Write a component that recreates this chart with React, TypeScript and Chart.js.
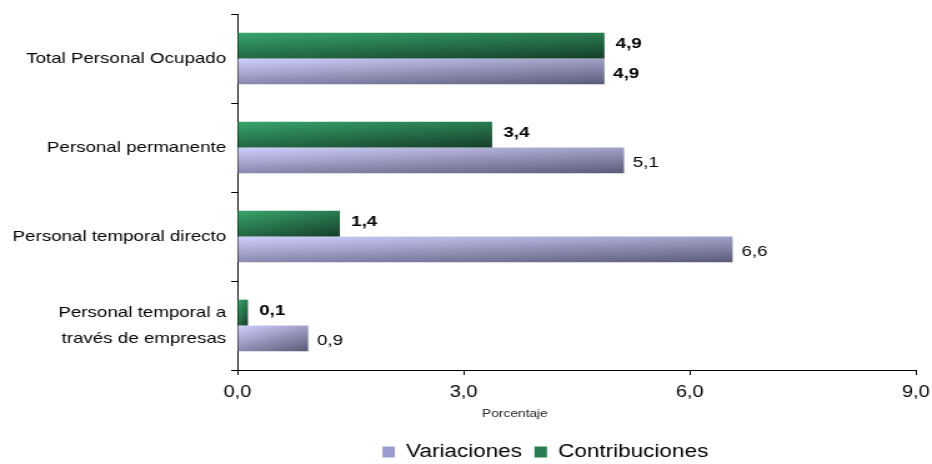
import React, { useEffect, useRef } from 'react';
import { Chart, registerables } from 'chart.js';

Chart.register(...registerables);

// ---- data ----
const categories: (string | string[])[] = [
  'Total Personal Ocupado',
  'Personal permanente',
  'Personal temporal directo',
  ['Personal temporal a', 'través de empresas'],
];
const variaciones = [4.87, 5.13, 6.57, 0.94];
const contribuciones = [4.87, 3.38, 1.36, 0.14];
const xMin = 0;
const xMax = 9;
const xStep = 3;
const axisTitle = 'Porcentaje';
const variacionesBold = [true, false, false, false];
const contribucionesBold = [true, true, true, true];

const FONT = "'Liberation Sans', Arial, Helvetica, sans-serif";
const fmt = (v: number) => v.toFixed(1).replace('.', ',');

// internal drawing width (canvas is stretched horizontally like the reference image)
const OUT_W = 932;
const OUT_H = 464;
const IN_W = 746;

const gradientPlugin = {
  id: 'barGradients',
  beforeDatasetsDraw(chart: any) {
    const ctx = chart.ctx;
    chart.data.datasets.forEach((ds: any, di: number) => {
      const meta = chart.getDatasetMeta(di);
      meta.data.forEach((el: any) => {
        const { x, y, base, height } = el.getProps(['x', 'y', 'base', 'height'], true);
        const left = Math.min(x, base);
        const right = Math.max(x, base);
        const w = Math.max(right - left, 1);
        const h = Math.max(height, 1);
        const L = 1 / (0.16 / (w * w) + 0.36 / (h * h));
        const a = (0.4 * L) / w;
        const b = (0.6 * L) / h;
        const top = y - h / 2;
        const g = ctx.createLinearGradient(left, top, left + a, top + b);
        g.addColorStop(0, ds.gradFrom);
        g.addColorStop(1, ds.gradTo);
        el.options = { ...el.options, backgroundColor: g };
      });
    });
  },
};

const labelPlugin = {
  id: 'valueLabels',
  afterDatasetsDraw(chart: any) {
    const ctx = chart.ctx;
    chart.data.datasets.forEach((ds: any, di: number) => {
      const meta = chart.getDatasetMeta(di);
      meta.data.forEach((el: any, i: number) => {
        const v = ds.data[i];
        ctx.save();
        ctx.font = `${ds.labelBold[i] ? 'bold ' : ''}15px ${FONT}`;
        ctx.fillStyle = '#000';
        ctx.textAlign = 'left';
        ctx.textBaseline = 'middle';
        ctx.fillText(fmt(v), el.x + ds.labelGap, el.y + ds.labelDy);
        ctx.restore();
      });
    });
  },
};

// x-axis title, drawn a little left of the plot centre as in the reference
const axisTitlePlugin = {
  id: 'axisTitle',
  afterDraw(chart: any) {
    const { ctx, chartArea } = chart;
    ctx.save();
    ctx.font = `11px ${FONT}`;
    ctx.fillStyle = '#222';
    ctx.textAlign = 'center';
    ctx.textBaseline = 'middle';
    const x = chartArea.left + (chartArea.right - chartArea.left) * 0.409;
    ctx.fillText(axisTitle, x, chartArea.bottom + 44);
    ctx.restore();
  },
};

const legendShift = {
  id: 'legendShift',
  afterLayout(chart: any) {
    const lg = chart.legend;
    if (!lg) return;
    const dx = 70;
    const dy = 7;
    lg.left += dx;
    lg.right += dx;
    lg.top += dy;
    lg.bottom += dy;
  },
};

export default function App() {
  const ref = useRef<HTMLCanvasElement | null>(null);

  useEffect(() => {
    if (!ref.current) return;
    const chart = new Chart(ref.current, {
      type: 'bar',
      data: {
        labels: categories as any,
        datasets: [
          {
            label: 'Contribuciones',
            data: contribuciones,
            backgroundColor: '#2a7d52',
            borderWidth: 0,
            categoryPercentage: 0.58,
            barPercentage: 1,
            gradFrom: '#38a56c',
            gradTo: '#153f29',
            labelBold: contribucionesBold,
            labelGap: 9,
            labelDy: -2,
          } as any,
          {
            label: 'Variaciones',
            data: variaciones,
            backgroundColor: '#9c9cd0',
            borderWidth: 0,
            categoryPercentage: 0.58,
            barPercentage: 1,
            gradFrom: '#d0d0ff',
            gradTo: '#5a5a78',
            labelBold: variacionesBold,
            labelGap: 7,
            labelDy: 2,
          } as any,
        ],
      },
      options: {
        indexAxis: 'y',
        responsive: false,
        animation: false,
        devicePixelRatio: 1,
        layout: { padding: { top: 14, right: 13, left: 0, bottom: 0 } },
        scales: {
          x: {
            min: xMin,
            max: xMax,
            ticks: {
              stepSize: xStep,
              color: '#000',
              font: { family: FONT, size: 16 },
              padding: 8,
              callback: (v: any) => fmt(Number(v)),
            },
            grid: { drawOnChartArea: false, drawTicks: true, tickLength: 5, color: '#000' },
            border: { display: true, color: '#000', width: 1 },
            title: { display: false, text: axisTitle },
            afterFit: (s: any) => {
              s.height = 56;
              s.paddingLeft = 0;
              s.paddingRight = 0;
            },
          },
          y: {
            grid: { display: true, drawOnChartArea: false, drawTicks: true, tickLength: 5, color: '#000', offset: true },
            border: { display: true, color: '#000', width: 1 },
            ticks: {
              color: '#000',
              font: { family: FONT, size: 15, lineHeight: 1.75 },
              padding: 4,
            },
            afterFit: (s: any) => {
              s.width = 190;
              s.paddingTop = 0;
              s.paddingBottom = 0;
            },
          },
        },
        plugins: {
          legend: {
            position: 'bottom',
            reverse: true,
            labels: {
              color: '#000',
              font: { family: FONT, size: 18 },
              boxWidth: 10,
              boxHeight: 11,
              padding: 10,
            },
          },
          tooltip: { enabled: false },
        },
      } as any,
      plugins: [gradientPlugin, labelPlugin, axisTitlePlugin, legendShift],
    });
    return () => chart.destroy();
  }, []);

  return (
    <div style={{ position: 'fixed', left: 0, top: 0, width: OUT_W, height: OUT_H, background: '#fff' }}>
      <canvas
        ref={ref}
        width={IN_W}
        height={OUT_H}
        style={{ width: `${OUT_W}px`, height: `${OUT_H}px`, display: 'block' }}
      />
    </div>
  );
}
